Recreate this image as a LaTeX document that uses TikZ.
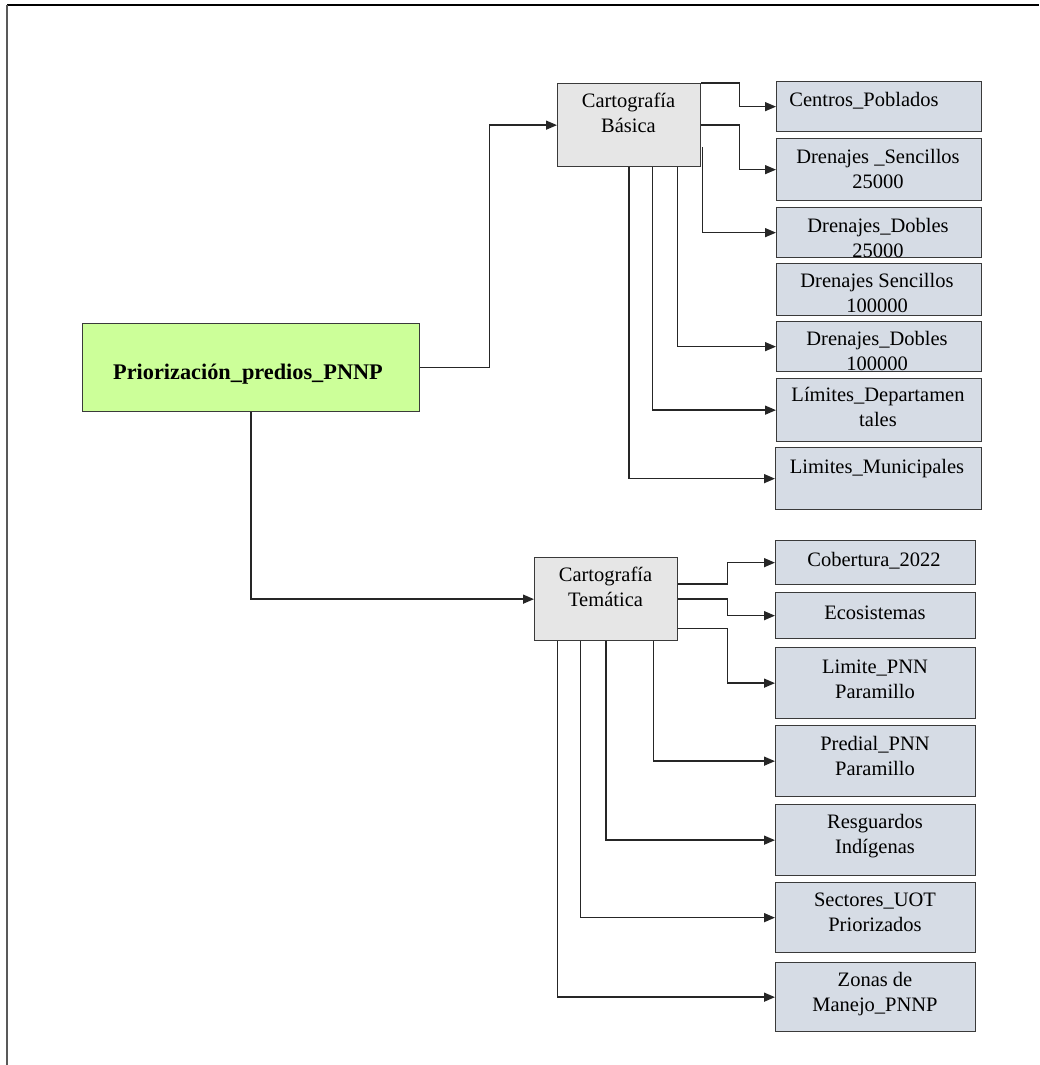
\documentclass[tikz,border=0pt]{standalone}
\usepackage{fontspec}
\setmainfont{Liberation Serif}
\usetikzlibrary{arrows.meta}
\definecolor{hojaverde}{HTML}{CCFF99}
\definecolor{grisclaro}{HTML}{E6E6E6}
\definecolor{grisazul}{HTML}{D6DCE5}
\definecolor{borde}{HTML}{3A3A3A}
\begin{document}
\begin{tikzpicture}[x=1pt,y=-1pt,
	caja/.style={draw=borde,line width=1.3pt,fill=grisazul,anchor=north west,inner sep=0pt},
	cajagris/.style={caja,fill=grisclaro},
	texto/.style={align=center,inner sep=0pt,font=\fontsize{20.5}{25}\selectfont,
		execute at begin node=\strut,execute at end node=\strut},
	flecha/.style={draw=black!85,line width=1.4pt,-{Triangle[length=11pt,width=9pt]}}]
				\useasboundingbox (0,0) rectangle (1039,1065);
				\draw[line width=1.3pt] (7,5) -- (1039,5);
				\draw[line width=2pt,black!65] (7,5) -- (7,1065);
				% raiz
				\node[caja,fill=hojaverde,minimum width=337,minimum height=88] (raiz) at (82,323) {};
				\node[texto,font=\bfseries\fontsize{22.3}{25}\selectfont] (raiztxt) at (248,374) {Priorización\_predios\_PNNP};
				% cartografia basica
				\node[cajagris,minimum width=143,minimum height=83] (cb) at (557,83) {};
				\node[texto] (cbtxt) at (628.5,117) {Cartografía\\Básica};
				\node[caja,minimum width=205,minimum height=50] (cp) at (776,81) {};
				\node[caja,minimum width=205,minimum height=62] (ds25) at (776,138) {};
				\node[caja,minimum width=205,minimum height=50] (dd25) at (776,207) {};
				\node[caja,minimum width=205,minimum height=52] (dsc100) at (776,263) {};
				\node[caja,minimum width=205,minimum height=50] (dd100) at (776,321) {};
				\node[caja,minimum width=205,minimum height=63] (ld) at (776,378) {};
				\node[caja,minimum width=206,minimum height=62] (lm) at (775,447) {};
				\node[texto] (cptxt) at (864,101) {Centros\_Poblados};
				\node[texto] (ds25txt) at (878,172.5) {Drenajes \_Sencillos\\25000};
				\node[texto] (dd25txt) at (878,242) {Drenajes\_Dobles\\25000};
				\node[texto] (dsc100txt) at (877,297) {Drenajes Sencillos\\100000};
				\node[texto] (dd100txt) at (877,354.5) {Drenajes\_Dobles\\100000};
				\node[texto] (ldtxt) at (878,411) {Límites\_Departamen\\tales};
				\node[texto] (lmtxt) at (877,468) {Limites\_Municipales};
				% cartografia tematica
				\node[cajagris,minimum width=143,minimum height=83] (ct) at (534,557) {};
				\node[texto] (cttxt) at (605.5,590.5) {Cartografía\\Temática};
				\node[caja,minimum width=200,minimum height=44] (cob) at (775,540) {};
				\node[caja,minimum width=200,minimum height=46] (eco) at (775,592) {};
				\node[caja,minimum width=200,minimum height=71] (lp) at (775,647) {};
				\node[caja,minimum width=200,minimum height=71] (pp) at (775,725) {};
				\node[caja,minimum width=200,minimum height=71] (rg) at (775,804) {};
				\node[caja,minimum width=200,minimum height=70] (su) at (775,882) {};
				\node[caja,minimum width=200,minimum height=69] (zm) at (775,962) {};
				\node[texto] (cobtxt) at (874,561) {Cobertura\_2022};
				\node[texto] (ecotxt) at (875,614) {Ecosistemas};
				\node[texto] (lptxt) at (875,682.5) {Limite\_PNN\\Paramillo};
				\node[texto] (pptxt) at (875,759.5) {Predial\_PNN\\Paramillo};
				\node[texto] (rgtxt) at (875,837.5) {Resguardos\\Indígenas};
				\node[texto] (sutxt) at (875,915.5) {Sectores\_UOT\\Priorizados};
				\node[texto] (zmtxt) at (875,995.5) {Zonas de\\Manejo\_PNNP};
				% conectores
				\draw[flecha] (raiz.east) -- ++(69,0) |- (cb.west);
				\draw[flecha] (raiz.south) |- (ct.west);
				\draw[flecha] (cb.north east) -- ++(38,0) |- (cp.west);
				\draw[flecha] (cb.east) -- ++(38,0) |- (ds25.west);
				\draw[flecha] ([xshift=1,yshift=-22]cb.east) |- (dd25.west);
				\draw[flecha] ([xshift=48.5]cb.south) |- (dd100.west);
				\draw[flecha] ([xshift=23.5]cb.south) |- (ld.west);
				\draw[flecha] (cb.south) |- (lm.west);
				\draw[flecha] ([yshift=15]ct.east) -- ++(49,0) |- (cob.west);
				\draw[flecha] (ct.east) -- ++(49,0) |- (eco.west);
				\draw[flecha] ([yshift=-29.5]ct.east) -- ++(49,0) |- (lp.west);
				\draw[flecha] ([xshift=47.5]ct.south) |- (pp.west);
				\draw[flecha] (ct.south) |- (rg.west);
				\draw[flecha] ([xshift=-25.5]ct.south) |- (su.west);
				\draw[flecha] ([xshift=-48.5]ct.south) |- (zm.west);
\end{tikzpicture}
\end{document}
